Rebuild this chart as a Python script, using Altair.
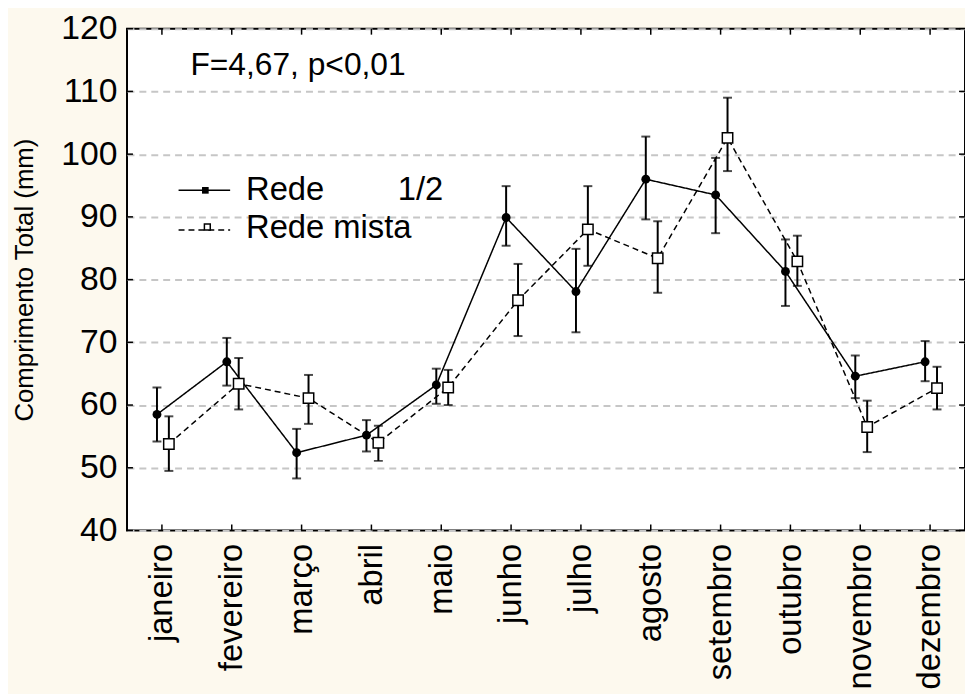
import altair as alt
import pandas as pd

# ---- data ----
months = ["janeiro", "fevereiro", "março", "abril", "maio", "junho",
          "julho", "agosto", "setembro", "outubro", "novembro", "dezembro"]

rede_mean = [58.5, 66.9, 52.4, 55.2, 63.2, 89.9, 78.1, 96.0, 93.5, 81.3, 64.6, 66.9]
rede_low  = [54.2, 63.1, 48.3, 52.6, 60.2, 85.4, 71.6, 89.6, 87.4, 75.8, 61.1, 63.8]
rede_high = [62.8, 70.7, 56.2, 57.6, 65.8, 94.9, 84.9, 102.8, 99.4, 86.4, 67.9, 70.2]

mista_mean = [53.8, 63.4, 61.1, 54.0, 62.8, 76.7, 88.0, 83.4, 102.6, 82.9, 56.5, 62.7]
mista_low  = [49.5, 59.3, 57.0, 51.1, 60.0, 71.0, 82.2, 77.9, 97.3, 79.0, 52.5, 59.3]
mista_high = [58.2, 67.5, 64.8, 56.7, 65.6, 82.5, 94.9, 89.3, 109.0, 87.0, 60.7, 66.1]

series = ["Rede 1/2", "Rede mista"]
y_values = [40, 50, 60, 70, 80, 90, 100, 110, 120]
title_text = "F=4,67, p<0,01"
legend_a = ["Rede", "1/2"]
legend_b = "Rede mista"
y_title = "Comprimento Total (mm)"

# ---- layout ----
W, H = 845, 506
BW = W / len(months)
FONT = "Liberation Sans"

rows = []
for i, m in enumerate(months):
    rows.append(dict(i=i, month=m, serie=series[0], mean=rede_mean[i],
                     low=rede_low[i], high=rede_high[i]))
    rows.append(dict(i=i, month=m, serie=series[1], mean=mista_mean[i],
                     low=mista_low[i], high=mista_high[i]))
df = pd.DataFrame(rows)

off_a = -5 / BW
off_b = 7 / BW

x_scale = alt.Scale(domain=[-0.5, len(months) - 0.5], nice=False, zero=False)
y_scale = alt.Scale(domain=[40, 120], nice=False, zero=False)

label_expr = "[" + ",".join("'" + m + "'" for m in months) + "][datum.value]"

x_axis = alt.Axis(values=list(range(len(months))), labelExpr=label_expr,
                  labelAngle=270, labelAlign="right", labelBaseline="middle",
                  labelFontSize=33, labelColor="black", labelPadding=13,
                  ticks=False, domain=False, grid=False, title=None,
                  labelFont=FONT, labelOverlap=False)
y_axis = alt.Axis(values=y_values, labelFontSize=34, labelColor="black",
                  labelPadding=10, ticks=False, domain=False, grid=True,
                  gridDash=[7, 5], gridColor="#c6c6c6", gridWidth=2,
                  title=y_title, titleFontSize=26, titleFontWeight="normal",
                  titleColor="black", titlePadding=24, labelFont=FONT,
                  titleFont=FONT)

base = alt.Chart(df).transform_calculate(
    pos=f"datum.i + (datum.serie == '{series[0]}' ? {off_a} : {off_b})"
)

X = alt.X("pos:Q", scale=x_scale, axis=x_axis)

lines = base.mark_line(color="black", strokeWidth=1.5).encode(
    x=X,
    y=alt.Y("mean:Q", scale=y_scale, axis=y_axis),
    detail="serie:N",
    strokeDash=alt.StrokeDash("serie:N", scale=alt.Scale(domain=series, range=[[1, 0], [6, 4]]), legend=None),
)

err = base.mark_rule(color="black", strokeWidth=2).encode(
    x=X, y=alt.Y("low:Q", scale=y_scale, axis=y_axis), y2="high:Q"
)
cap_lo = base.mark_tick(color="black", orient="horizontal", size=9, thickness=2).encode(
    x=X, y=alt.Y("low:Q", scale=y_scale, axis=y_axis)
)
cap_hi = base.mark_tick(color="black", orient="horizontal", size=9, thickness=2).encode(
    x=X, y=alt.Y("high:Q", scale=y_scale, axis=y_axis)
)

pts_a = base.transform_filter(alt.datum.serie == series[0]).mark_point(
    shape="circle", filled=True, color="black", size=80, opacity=1
).encode(x=X, y=alt.Y("mean:Q", scale=y_scale, axis=y_axis))

pts_b = base.transform_filter(alt.datum.serie == series[1]).mark_point(
    shape="square", filled=True, fill="white", stroke="black", strokeWidth=1.5,
    size=110, opacity=1
).encode(x=X, y=alt.Y("mean:Q", scale=y_scale, axis=y_axis))

# inward ticks on all four sides
ydf = pd.DataFrame({"v": y_values})
xdf = pd.DataFrame({"i": list(range(len(months)))})
Yt = alt.Y("v:Q", scale=y_scale, axis=y_axis)
Xt = alt.X("i:Q", scale=x_scale, axis=x_axis)
tick_l = alt.Chart(ydf).mark_rule(color="black", strokeWidth=1.5).encode(
    y=Yt, x=alt.value(0), x2=alt.value(6))
tick_r = alt.Chart(ydf).mark_rule(color="black", strokeWidth=1.5).encode(
    y=Yt, x=alt.value(W - 6), x2=alt.value(W))
tick_t = alt.Chart(xdf).mark_rule(color="black", strokeWidth=1.5).encode(
    x=Xt, y=alt.value(0), y2=alt.value(6))
tick_b = alt.Chart(xdf).mark_rule(color="black", strokeWidth=1.5).encode(
    x=Xt, y=alt.value(H - 6), y2=alt.value(H))

# annotation and legend
tdf = pd.DataFrame({"t": [title_text]})
title_mark = alt.Chart(tdf).mark_text(
    align="left", baseline="middle", fontSize=32, font=FONT, color="black"
).encode(text="t:N", x=alt.value(64), y=alt.value(37))

lg = pd.DataFrame({"a": [legend_a[0]], "b": [legend_a[1]], "c": [legend_b]})
lg_line_a = alt.Chart(lg).mark_rule(color="black", strokeWidth=1.5).encode(
    x=alt.value(52), x2=alt.value(104), y=alt.value(163))
lg_pt_a = alt.Chart(lg).mark_point(shape="square", filled=True, color="black",
                                   size=45, opacity=1).encode(
    x=alt.value(79), y=alt.value(163))
lg_txt_a = alt.Chart(lg).mark_text(align="left", baseline="middle", fontSize=33,
                                   font=FONT, color="black").encode(
    text="a:N", x=alt.value(120), y=alt.value(163))
lg_txt_a2 = alt.Chart(lg).mark_text(align="left", baseline="middle", fontSize=33,
                                    font=FONT, color="black").encode(
    text="b:N", x=alt.value(273), y=alt.value(163))
lg_line_b = alt.Chart(lg).mark_rule(color="black", strokeWidth=1.5,
                                    strokeDash=[6, 4]).encode(
    x=alt.value(52), x2=alt.value(104), y=alt.value(203))
lg_pt_b = alt.Chart(lg).mark_point(shape="square", filled=True, fill="white",
                                   stroke="black", strokeWidth=1.5, size=35,
                                   opacity=1).encode(
    x=alt.value(81), y=alt.value(200))
lg_txt_b = alt.Chart(lg).mark_text(align="left", baseline="middle", fontSize=33,
                                   font=FONT, color="black").encode(
    text="c:N", x=alt.value(120), y=alt.value(201))

chart = alt.layer(
    lines, err, cap_lo, cap_hi, pts_a, pts_b,
    tick_l, tick_r, tick_t, tick_b,
    title_mark, lg_line_a, lg_pt_a, lg_txt_a, lg_txt_a2, lg_line_b, lg_pt_b, lg_txt_b,
).properties(
    width=W, height=H,
    autosize=alt.AutoSizeParams(type="none"),
    padding={"left": 120, "top": 18, "right": 0, "bottom": 162},
    background="#FDF9EE",
).configure(
    font=FONT
).configure_view(
    stroke="black", strokeWidth=2, fill="white"
)

chart.save("out.html", embed_options={"renderer": "svg", "actions": False})
